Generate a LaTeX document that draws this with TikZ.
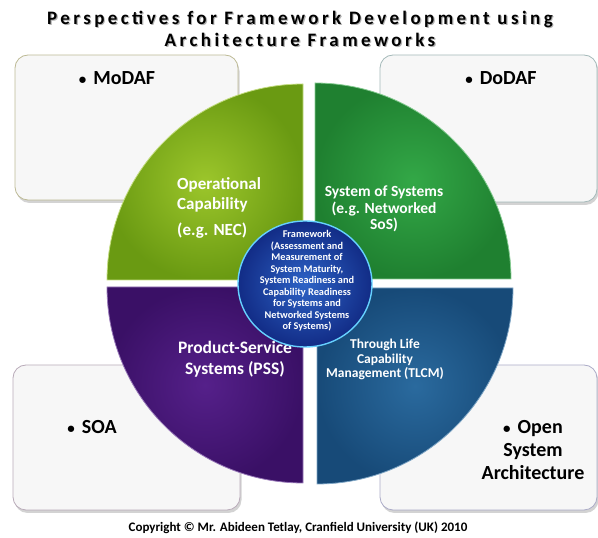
\documentclass[tikz,border=0pt]{standalone}
\usepackage{fontspec}
\setmainfont{Carlito}
\usetikzlibrary{shadows}
\definecolor{ygA}{HTML}{9CC62B}
\definecolor{ygB}{HTML}{6A9A12}
\definecolor{grA}{HTML}{33A847}
\definecolor{grB}{HTML}{1F8030}
\definecolor{puA}{HTML}{55208A}
\definecolor{puB}{HTML}{3A1066}
\definecolor{blA}{HTML}{2A6A9E}
\definecolor{blB}{HTML}{174A78}
\definecolor{ciA}{HTML}{2D63C6}
\definecolor{ciB}{HTML}{122C86}
\newcommand{\bul}{{\fontsize{15}{15}\selectfont\textbullet}\hspace{7pt}}
\tikzset{
  sidebox/.style={rounded corners=13pt, fill=gray!6, line width=0.8pt,
    drop shadow={opacity=0.35, shadow xshift=1.5pt, shadow yshift=-3pt}},
  boxtext/.style={font=\bfseries\fontsize{20}{23}\selectfont, text=black, align=center, inner sep=0pt},
  quadtext/.style={font=\bfseries, text=white, align=center, inner sep=0pt},
}
\begin{document}
\begin{tikzpicture}[x=1pt,y=1pt]
\useasboundingbox (0,0) rectangle (598,538);
% title
\foreach \dx/\dy/\col in {1.2/-1.2/gray!60, 0/0/black}{
  \node[font=\bfseries\fontsize{19}{22}\selectfont\addfontfeature{LetterSpace=18}, text=\col, align=center, inner sep=0pt] at (300+\dx,509+\dy)
    {Perspectives for Framework Development using\\Architecture Frameworks};
}
% side boxes
\path[sidebox, draw=olive!35!gray!60] (15,338) rectangle (238,483);
\path[sidebox, draw=teal!30!gray!55] (380,336) rectangle (597,483);
\path[sidebox, draw=violet!20!gray!55] (13,28) rectangle (240,173);
\path[sidebox, draw=blue!20!gray!55] (380,28) rectangle (597,173);
\node[boxtext] (modaf) at (117,460) {\bul MoDAF};
\node[boxtext] (dodaf) at (501,460) {\bul DoDAF};
\node[boxtext] (soa) at (92,111) {\bul SOA};
\node[boxtext] (osa) at (533,88) {\bul Open\\System\\Architecture};
% quadrants
\shade[inner color=ygA, outer color=ygB, draw=ygA!60!white, line width=0.8pt]
  (303,258) -- (107,258) arc[start angle=180, end angle=90, radius=196] -- cycle;
\shade[inner color=grA, outer color=grB, draw=grA!60!white, line width=0.8pt]
  (315,259) -- (315,455) arc[start angle=90, end angle=0, radius=196] -- cycle;
\shade[inner color=puA, outer color=puB, draw=puA!60!white, line width=0.8pt]
  (303,251) -- (107,251) arc[start angle=180, end angle=270, radius=196] -- cycle;
\shade[inner color=blA, outer color=blB, draw=blA!60!white, line width=0.8pt]
  (317,250) -- (513,250) arc[start angle=0, end angle=-90, radius=196] -- cycle;
% quadrant texts
\node[quadtext, anchor=west, align=left, font=\bfseries\fontsize{17}{20}\selectfont] (opcap) at (177,330)
  {Operational\\Capability\\[6pt](e.g. NEC)};
\node[quadtext, font=\bfseries\fontsize{15.5}{16.5}\selectfont] (sos) at (384,329)
  {System of Systems\\(e.g. Networked\\SoS)};
\node[quadtext, font=\bfseries\fontsize{17.5}{21}\selectfont] (pss) at (235,179)
  {Product-Service\\Systems (PSS)};
\node[quadtext, font=\bfseries\fontsize{13.5}{14.5}\selectfont] (tlcm) at (385,178.5)
  {Through Life\\Capability\\Management (TLCM)};
% centre circle
\shade[inner color=ciA, outer color=ciB, draw=blue!30!cyan!60, line width=1.4pt]
  (305,254) ellipse[x radius=67, y radius=63];
\node[quadtext, font=\bfseries\fontsize{10.3}{11.5}\selectfont] (fw) at (307,257)
  {Framework\\(Assessment and\\Measurement of\\System Maturity,\\System Readiness and\\Capability Readiness\\for Systems and\\Networked Systems\\of Systems)};
% copyright
\node[font=\bfseries\fontsize{13}{14}\selectfont, inner sep=0pt] (copy) at (298,10)
  {Copyright \textcopyright{} Mr. Abideen Tetlay, Cranfield University (UK) 2010};
\end{tikzpicture}
\end{document}
